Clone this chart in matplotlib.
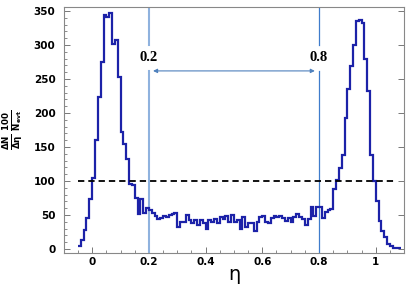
import numpy as np
import matplotlib
matplotlib.use('Agg')
import matplotlib.pyplot as plt
from matplotlib.ticker import MultipleLocator

# histogram: 0.01 wide bins, first bin starts at eta = -0.05
eta_lo = -0.05
bin_w = 0.01
counts = [4, 13, 28, 45, 73,
          105, 160, 224, 275, 344, 342, 347, 302, 308, 253,
          172, 154, 132, 96, 94, 75, 52, 73, 53, 61,
          58, 53, 48, 44, 45, 48, 47, 50, 51, 53,
          33, 40, 40, 50, 43, 39, 43, 35, 43, 38,
          29, 42, 40, 44, 39, 47, 44, 48, 40, 50,
          40, 43, 30, 47, 33, 39, 38, 26, 40, 47,
          48, 40, 39, 45, 48, 47, 48, 45, 41, 45,
          40, 47, 52, 47, 44, 35, 44, 62, 48, 62,
          62, 45, 55, 57, 59, 89, 101, 119, 139, 193,
          235, 269, 300, 336, 337, 333, 280, 232, 139, 100,
          71, 41, 27, 18, 7, 4, 2, 1, 1]

ref_level = 100
cut_lo, cut_hi = 0.2, 0.8
arrow_y = 262
label_y = 281
gap_top = 300

xticks = [0, 0.2, 0.4, 0.6, 0.8, 1]
xticklabels = ['0', '0.2', '0.4', '0.6', '0.8', '1']
yticks = [0, 50, 100, 150, 200, 250, 300, 350]

edges = np.round(eta_lo + bin_w * np.arange(len(counts) + 1), 3)

plt.rcParams['mathtext.default'] = 'bf'
fig = plt.figure(figsize=(4.09, 2.86), dpi=100)
ax = fig.add_axes([0.156, 0.115, 0.832, 0.8605])

ax.stairs(counts, edges, baseline=None, color='#1c22a8', lw=1.6, zorder=3)
ax.plot([edges[0], 1.07], [ref_level, ref_level], color='black', ls=(0, (3.5, 2.2)), lw=1.3, zorder=4)

# eta cut lines, broken around the labels
ax.plot([cut_lo, cut_lo], [-10, arrow_y], color='#8fb2de', lw=1.5, zorder=2)
ax.plot([cut_lo, cut_lo], [gap_top, 400], color='#8fb2de', lw=1.5, zorder=2)
ax.plot([cut_hi, cut_hi], [-10, arrow_y], color='#3f7ccb', lw=0.9, zorder=2)
ax.plot([cut_hi, cut_hi], [gap_top, 400], color='#3f7ccb', lw=0.9, zorder=2)
ax.annotate('', xy=(cut_lo, arrow_y), xytext=(cut_hi, arrow_y),
            arrowprops=dict(arrowstyle='<|-|>', color='#4f81bd', lw=0.8,
                            mutation_scale=6, shrinkA=3, shrinkB=3))
for xc in (cut_lo, cut_hi):
    ax.text(xc, label_y, '{:.1f}'.format(xc), ha='center', va='center',
            family='Liberation Serif', weight='bold', fontsize=10.5)

ax.set_xlim(-0.1, 1.1)
ax.set_ylim(-6, 356)
ax.set_xticks(xticks)
ax.set_xticklabels(xticklabels)
ax.set_yticks(yticks)
ax.xaxis.set_minor_locator(MultipleLocator(0.05))
ax.yaxis.set_minor_locator(MultipleLocator(10))
ax.tick_params(which='both', direction='in', top=False, right=True, colors='#777777',
               labelcolor='black', labelsize=7.5)
ax.tick_params(which='major', length=4, width=0.7)
ax.tick_params(which='minor', length=2.5, width=0.6, right=False)
ax.tick_params(axis='y', pad=6)
ax.tick_params(axis='x', pad=3)
for lab in ax.get_xticklabels() + ax.get_yticklabels():
    lab.set_fontweight('bold')
for sp in ax.spines.values():
    sp.set_color('#888888')
    sp.set_linewidth(0.8)

ax.set_xlabel(r'$\mathregular{\eta}$', fontsize=14, labelpad=0)
ax.set_ylabel(r'$\frac{\Delta N}{\Delta \eta}\ \frac{100}{N_{evt}}$', fontsize=9, labelpad=6)

fig.savefig('out.png', dpi=100)
